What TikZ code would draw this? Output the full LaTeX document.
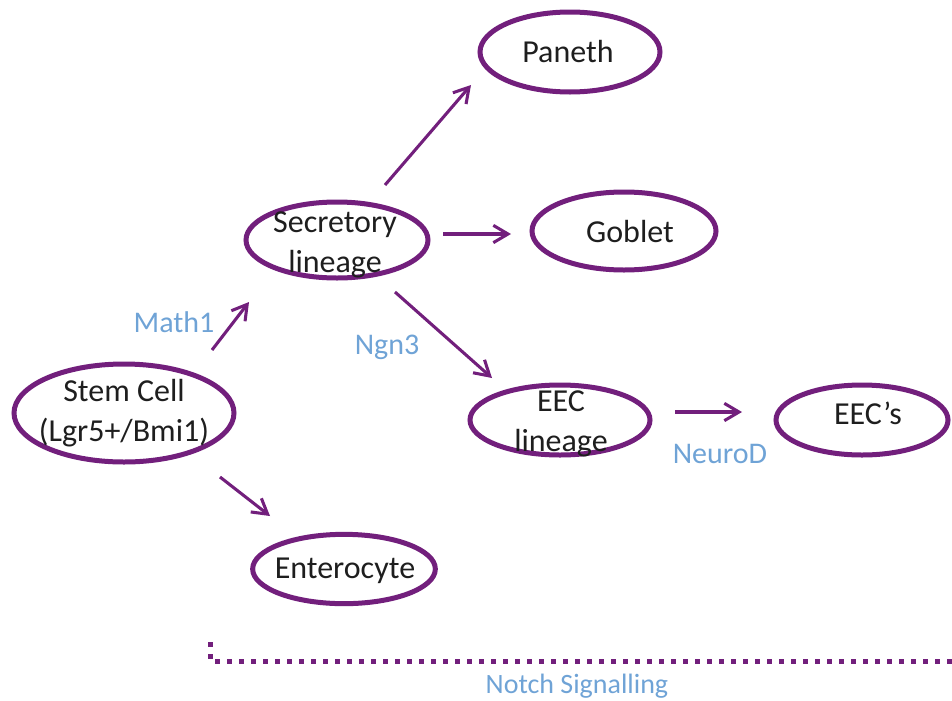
\documentclass[tikz,border=0pt]{standalone}
\usepackage{fontspec}
\setmainfont{Carlito}
\usetikzlibrary{arrows.meta,shapes.geometric}
\definecolor{cellpurple}{RGB}{114,31,124}
\definecolor{labelblue}{RGB}{111,163,214}
\definecolor{txtgray}{RGB}{30,30,30}
\tikzset{
  cell/.style={ellipse, draw=cellpurple, line width=3.75pt, inner sep=0pt},
  celltext/.style={align=center, text=txtgray, inner sep=0pt, font=\fontsize{24}{29.5}\selectfont},
  factor/.style={text=labelblue, inner sep=0pt, font=\fontsize{22.5}{27}\selectfont},
  arr/.style={draw=cellpurple, line width=2.3pt, -{Straight Barb[length=11pt,width=13pt,line width=2.3pt]}},
  notch/.style={draw=cellpurple, line width=3.75pt, dash pattern=on 3.6pt off 5.4pt}
}
\begin{document}
\begin{tikzpicture}[x=0.75pt,y=-0.75pt]
\useasboundingbox (0,0) rectangle (952,700);
% ellipses
\node[cell, minimum width=135pt, minimum height=60pt] (paneth) at (570,52) {};
\node[cell, minimum width=138pt, minimum height=58.5pt] (goblet) at (624,231) {};
\node[cell, minimum width=136.5pt, minimum height=57pt] (secr) at (337,240) {};
\node[cell, minimum width=165pt, minimum height=73.5pt] (stem) at (124,413) {};
\node[cell, minimum width=135pt, minimum height=52.5pt] (eecl) at (560,420) {};
\node[cell, minimum width=129pt, minimum height=52.5pt] (eecs) at (862,420) {};
\node[cell, minimum width=137pt, minimum height=52pt] (ent) at (344,569) {};
% texts
\node[celltext] (panethT) at (568,52) {Paneth};
\node[celltext] (gobletT) at (630,232) {Goblet};
\node[celltext] (secrT) at (335,245) {Secretory\\lineage};
\node[celltext] (stemT) at (124,413) {Stem Cell\\(Lgr5+/Bmi1)};
\node[celltext] (eeclT) at (561,424) {EEC\\lineage};
\node[celltext] (eecsT) at (868,413) {EEC’s};
\node[celltext] (entT) at (345,571) {Enterocyte};
% factor labels
\node[factor] (math1) at (174,322) {Math1};
\node[factor] (ngn3) at (387,347) {Ngn3};
\node[factor] (neurod) at (720,454) {NeuroD};
\node[factor, font=\fontsize{21}{25}\selectfont] (notchT) at (577,686) {Notch Signalling};
% arrow end points
\coordinate (m1s) at (212,350); \coordinate (m1e) at (249,302);
\coordinate (ens) at (220,477); \coordinate (ene) at (270,516);
\coordinate (pas) at (385,185); \coordinate (pae) at (471,85);
\coordinate (gos) at (443,234); \coordinate (goe) at (511,234);
\coordinate (ees) at (395,292); \coordinate (eee) at (492,378);
\coordinate (nes) at (675,412); \coordinate (nee) at (742,412);
\draw[arr] (m1s) -- (m1e);
\draw[arr] (ens) -- (ene);
\draw[arr] (pas) -- (pae);
\draw[arr] (gos) -- (goe);
\draw[arr] (ees) -- (eee);
\draw[arr] (nes) -- (nee);
% notch dotted bracket
\coordinate (nA) at (210,642);
\coordinate (nB) at (210,661);
\coordinate (nC) at (952,661);
\draw[notch] (nA) -- (nB) -- (nC);
\end{tikzpicture}
\end{document}
